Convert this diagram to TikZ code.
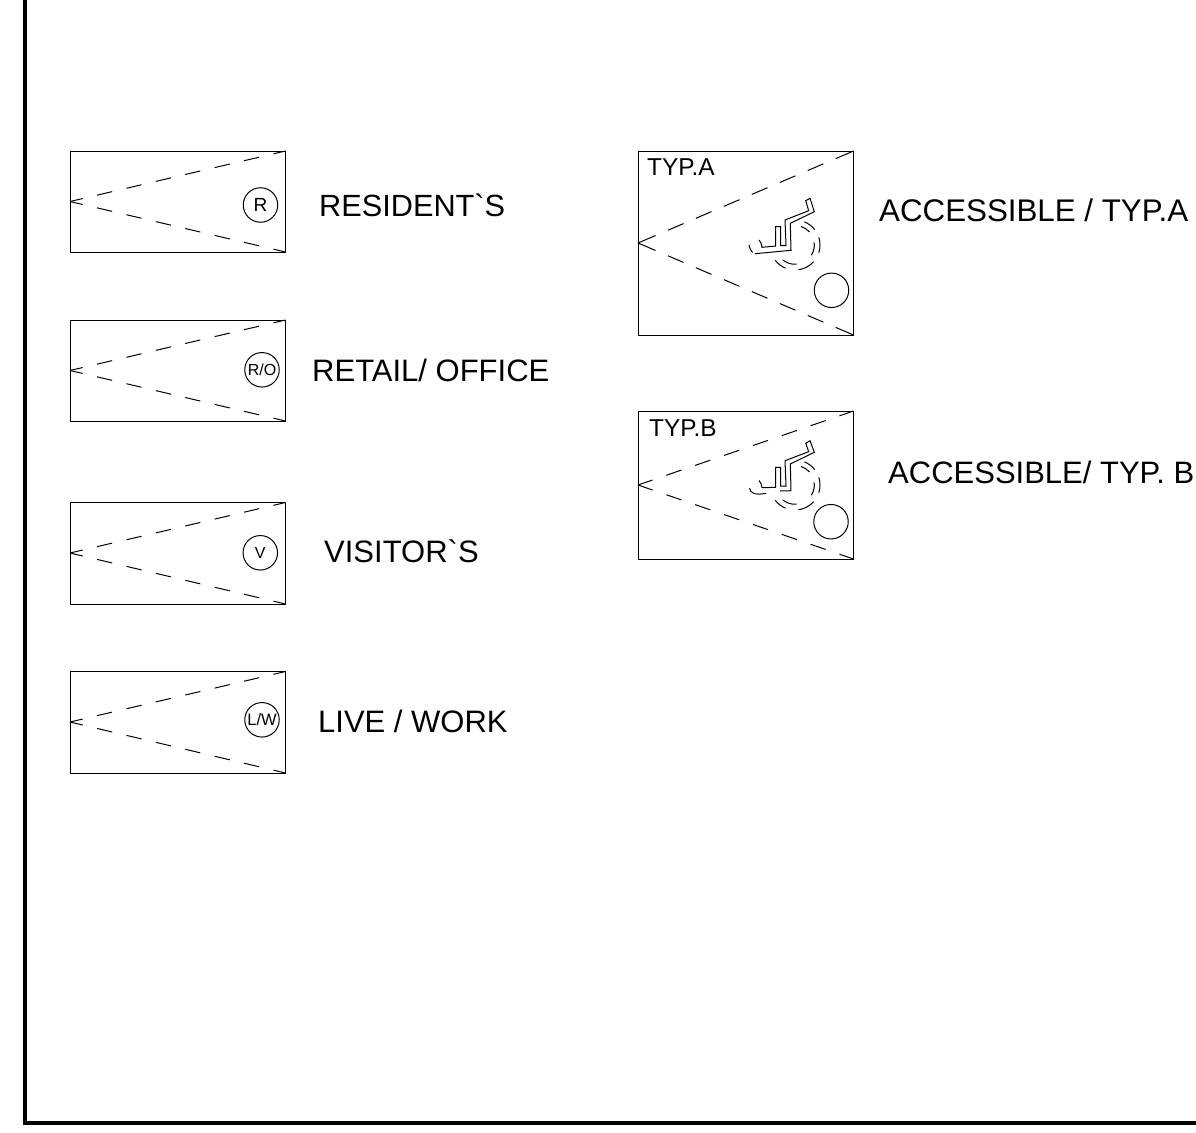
\documentclass[tikz,border=0pt]{standalone}
\usepackage{fontspec}
\setmainfont{Liberation Sans}
\newfontfamily\rawsans{Liberation Sans}
\tikzset{
  thinline/.style={line width=1pt,black},
  sightR/.style={line width=1pt,black,dash pattern=on 15.5pt off 14.7pt,dash phase=3.1pt},
  sightA/.style={line width=1pt,black,dash pattern=on 19.4pt off 13.4pt on 17pt off 13.4pt on 17pt off 13.4pt on 17pt off 13.4pt on 17pt off 13.4pt on 17pt off 13.4pt on 17pt off 13.4pt on 30pt off 1pt},
  sightB/.style={line width=1pt,black,dash pattern=on 16pt off 14.5pt,dash phase=1.1pt},
  framebar/.style={line width=4pt,black,line join=miter},
  lbl/.style={anchor=base west,inner sep=0pt,font=\rawsans\fontsize{31}{36}\selectfont},
  lblwide/.style={anchor=base west,inner sep=0pt,font=\rawsans\fontsize{31.3}{36}\selectfont},
  lblnarrow/.style={anchor=base west,inner sep=0pt,font=\rawsans\fontsize{30.7}{36}\selectfont},
  typ/.style={anchor=base west,inner sep=0pt,font=\rawsans\fontsize{24.4}{28}\selectfont},
  badge/.style={circle,draw,line width=1pt,minimum size=34.5pt,inner sep=0pt},
  wheel/.style={line width=1pt,black}
}
\newcommand{\stallbox}[5]{% left, top, bottom, apex, dash style
  \draw[thinline] (#1,#2) rectangle (#1+215.5,#3);
  \draw[#5] (#1+215.5,#2) -- (#1,#4);
  \draw[#5] (#1+215.5,#3) -- (#1,#4);
}
\newcommand{\wheelarcs}[2]{% centre x, y
  \begin{scope}[shift={(#1,#2)}]
    \draw[wheel] (-68:25) arc (-68:-38:25);
    \draw[wheel] (-72:19.5) arc (-72:-42:19.5);
    \draw[wheel] (-18:25) arc (-18:18:25);
    \draw[wheel] (-8:19.3) arc (-8:32:19.3);
    \draw[wheel] (42:25) arc (42:82:25);
    \draw[wheel] (85:19.3) arc (85:130:19.3);
    \draw[wheel] (112:25) arc (112:142:25);
  \end{scope}
}
\begin{document}
\begin{tikzpicture}[x=1pt,y=-1pt]
\useasboundingbox (0,0) rectangle (1196,1132);
\coordinate (ftop) at (24.5,0);
\coordinate (fcorner) at (24.5,1123);
\coordinate (fend) at (1196,1123);
\draw[framebar] (ftop) -- (fcorner) -- (fend);

\stallbox{70}{151}{252}{201.5}{sightR}
\stallbox{70}{320}{421}{370.5}{sightR}
\stallbox{70}{502.5}{604}{553}{sightR}
\stallbox{70}{671.5}{773}{722}{sightR}
\stallbox{638}{151}{335}{243}{sightA}
\stallbox{638}{411}{559}{485}{sightB}

\node[badge,font=\rawsans\fontsize{19}{20}\selectfont] (m1) at (260.5,205) {R};
\node[badge,font=\rawsans\fontsize{16}{18}\selectfont] (m2) at (262,369.8) {R/O};
\node[badge,font=\rawsans\fontsize{16}{18}\selectfont] (m3) at (260.3,552.8) {V};
\node[badge,font=\rawsans\fontsize{16.5}{18}\selectfont] (m4) at (262,719.8) {L/W};
\node[badge] (ma) at (831.5,290.3) {};
\node[badge] (mb) at (831,521.7) {};

\node[lblnarrow] (t1) at (319,216) {RESIDENT`S};
\node[lbl] (t2) at (312,381) {RETAIL/ OFFICE};
\node[lbl] (t3) at (324,562) {VISITOR`S};
\node[lbl] (t4) at (318,732) {LIVE / WORK};
\node[lblwide] (ta) at (879,221.5) {ACCESSIBLE / TYP.A};
\node[lbl] (tb) at (888,483.5) {ACCESSIBLE/ TYP. B};
\node[typ] (ua) at (647,175.5) {TYP.A};
\node[typ] (ub) at (649,436.5) {TYP.B};

% wheelchair, type A
\draw[wheel,line join=miter] (755,253.7) -- (791,250.3) -- (790.3,223.3) -- (814.3,211.7) -- (810,198.3) -- (805.7,200.7) -- (808.7,210.7) -- (785,220) -- (786,245.7) -- (780.7,245.7) -- (780.7,226.7) -- (775.7,226.7) -- (775.7,246) -- (762,247.3) .. controls (761.5,244) and (761,242) .. (759,240);
\draw[wheel] (749,245) .. controls (749.5,248) and (750.5,250) .. (752.5,252.5);
\wheelarcs{795}{245}

% wheelchair, type B
\draw[wheel,line join=miter] (791,490.7) -- (790.3,464) -- (814.3,452.3) -- (810,440.7) -- (805.7,443.3) -- (808.7,451.7) -- (785,460.7) -- (786,486) -- (780.7,486) -- (780.7,467.3) -- (775.7,467.3) -- (775.7,487.3) -- (762,487.7) .. controls (761.5,484.5) and (761,482.5) .. (759,480.5);
\draw[wheel] (780,491) -- (791,490.7);
\draw[wheel] (749.5,488) .. controls (750,493) and (755,495.5) .. (766,493.3);
\wheelarcs{795}{485}
\end{tikzpicture}
\end{document}
